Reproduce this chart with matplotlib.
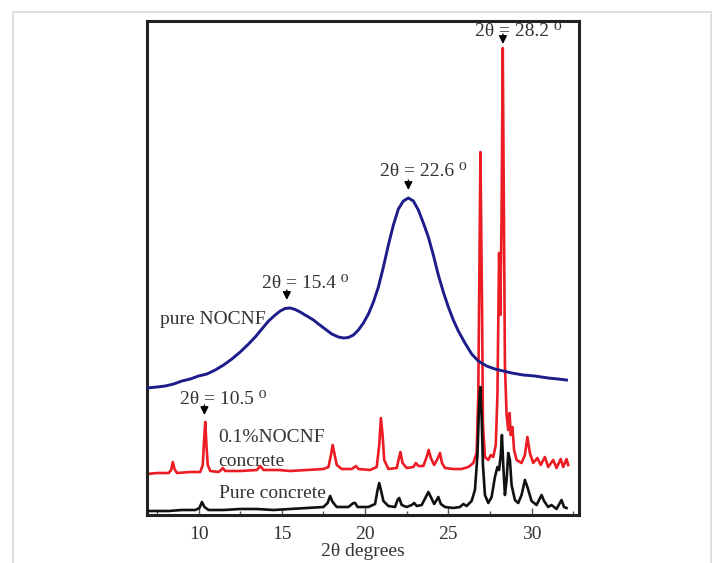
import matplotlib
matplotlib.use("Agg")
import matplotlib.pyplot as plt
from matplotlib.patches import Rectangle
from matplotlib.ticker import MultipleLocator

# ---- data (x in degrees 2theta, y in relative intensity units) ----
blue_x = [6.9, 7.5, 8, 8.5, 9, 9.5, 10, 10.5, 11, 11.5, 12, 12.5, 13, 13.4, 13.8, 14.2, 14.6,
          14.9, 15.2, 15.5, 15.8, 16.1, 16.5, 16.9, 17.2, 17.6, 18.0, 18.4, 18.7, 19.0, 19.3,
          19.6, 19.9, 20.2, 20.5, 20.8, 21.1, 21.4, 21.7, 22.0, 22.3, 22.6, 22.9, 23.2, 23.5,
          23.8, 24.1, 24.4, 24.7, 25.0, 25.3, 25.6, 26.0, 26.4, 26.8, 27.3, 27.8, 28.3, 28.8,
          29.5, 30.2, 31.0, 31.6, 32.1]
blue_y = [127, 128, 129, 131, 134, 136, 139, 141, 145, 150, 156, 163, 171, 178, 186, 194, 200,
          204, 206.5, 207, 205.5, 203, 199, 195, 191, 186, 181, 178, 177, 177.5, 180,
          185, 192, 201, 213, 228, 248, 270, 290, 306, 314, 317, 314, 305, 292,
          278, 260, 240, 223, 208, 195, 184, 172, 161, 154, 149, 146, 144, 142,
          140, 139, 137, 136, 135]

red_x = [6.9, 7.5, 8.2, 8.35, 8.45, 8.55, 8.7, 9.5, 10.1, 10.25, 10.33, 10.4, 10.47, 10.55, 10.7,
         11.2, 11.35, 11.45, 11.6, 12.5, 13.5, 13.7, 13.9, 14.8, 15.5, 16.5, 17.5, 17.8, 17.95,
         18.05, 18.15, 18.3, 18.6, 19.2, 19.45, 19.6, 20.3, 20.7, 20.85, 20.95, 21.05, 21.15,
         21.4, 21.9, 22.05, 22.12, 22.25, 22.5, 22.9, 23.05, 23.2, 23.5, 23.7, 23.82, 23.95,
         24.15, 24.35, 24.5, 24.62, 24.8, 25.3, 25.8, 26.2, 26.5, 26.7, 26.8, 26.88, 26.93,
         26.98, 27.03, 27.08, 27.2, 27.4, 27.55, 27.7, 27.85, 27.95, 28.05, 28.12, 28.2, 28.27,
         28.34, 28.4, 28.5, 28.6, 28.68, 28.75, 28.85, 28.95, 29.1, 29.4, 29.6, 29.75, 29.9,
         30.1, 30.35, 30.55, 30.8, 31.0, 31.3, 31.5, 31.75, 31.9, 32.1, 32.2]
red_y = [41, 42, 42, 45, 53, 46, 42, 43, 43, 50, 75, 93, 70, 50, 44,
         43, 45, 47, 44, 44, 45, 49, 45, 45, 44, 45, 46, 48, 60,
         70, 62, 50, 46, 46, 49, 46, 45, 48, 70, 97, 80, 55,
         46, 47, 58, 63, 52, 47, 48, 52, 49, 49, 58, 65, 57,
         50, 56, 62, 52, 47, 46, 46, 48, 52, 62, 120, 270, 363,
         280, 200, 90, 58, 55, 60, 58, 70, 120, 262, 200, 300, 467,
         300, 150, 100, 85, 102, 80, 88, 65, 55, 52, 60, 78, 62,
         52, 57, 50, 58, 48, 55, 47, 56, 48, 56, 50]

black_x = [6.9, 7.5, 8.2, 9, 9.8, 10.05, 10.2, 10.35, 10.6, 11.5, 12.5, 13.5, 14.5, 15.5, 16.5,
           17.5, 17.75, 17.9, 18.05, 18.3, 19.0, 19.3, 19.4, 19.55, 20.2, 20.6, 20.75, 20.85,
           20.95, 21.1, 21.4, 21.8, 21.95, 22.05, 22.2, 22.5, 22.8, 22.95, 23.1, 23.4, 23.65,
           23.8, 23.95, 24.15, 24.3, 24.4, 24.55, 24.8, 25.3, 25.7, 25.9, 26.1, 26.4, 26.6,
           26.75, 26.85, 26.92, 27.0, 27.08, 27.2, 27.4, 27.6, 27.8, 27.95, 28.05, 28.15, 28.22,
           28.3, 28.4, 28.5, 28.6, 28.7, 28.8, 29.0, 29.2, 29.4, 29.6, 29.75, 30.0, 30.3, 30.6,
           30.75, 31.0, 31.2, 31.5, 31.8, 31.95, 32.1]
black_y = [4, 4, 4, 5, 5, 7, 13, 8, 5, 5, 6, 6, 5, 6, 7,
           8, 12, 19, 13, 8, 8, 12, 12, 8, 8, 11, 25, 32,
           25, 14, 9, 8, 15, 17, 10, 8, 10, 12, 9, 10, 18,
           23, 18, 11, 15, 18, 11, 8, 7, 8, 11, 9, 14, 25,
           60, 110, 128, 100, 50, 20, 12, 18, 38, 48, 45, 60, 80,
           50, 20, 35, 62, 55, 30, 15, 12, 20, 35, 28, 14, 10, 20,
           14, 8, 10, 6, 15, 8, 7]

xticks = [10, 15, 20, 25, 30]
peak_labels = ["2θ = 10.5 ⁰", "2θ = 15.4 ⁰", "2θ = 22.6 ⁰", "2θ = 28.2 ⁰"]
peak_x = [10.35, 15.3, 22.6, 28.28]
peak_tip = [100, 215, 325, 471]
label_x = [8.9, 13.8, 20.9, 26.6]
label_y = [115, 232, 343, 483]

serif = ["Liberation Serif", "DejaVu Serif"]
txt_color = "#333333"

fig = plt.figure(figsize=(7.15, 5.63), dpi=100)
# light outer frame
fig.patches.append(Rectangle((13 / 715, -0.05), (711 - 13) / 715, 1.05 - 12 / 563,
                             transform=fig.transFigure, fill=False,
                             edgecolor="#d9d9d9", linewidth=1.2))

ax = fig.add_axes([147 / 715, 48 / 563, (579 - 147) / 715, (515 - 21) / 563])
ax.plot(blue_x, blue_y, color="#1c1c8a", lw=2.1, zorder=3)
ax.plot(red_x, red_y, color="#ec1c24", lw=1.9, zorder=2)
ax.plot(black_x, black_y, color="#111111", lw=1.9, zorder=4)

ax.set_xlim(6.9, 32.85)
ax.set_ylim(0, 494)
ax.set_yticks([])
ax.set_xticks(xticks)
ax.xaxis.set_minor_locator(MultipleLocator(2.5))
ax.tick_params(axis="x", which="major", direction="in", length=5, width=1, color="#555555",
               labelsize=14, labelcolor=txt_color, pad=8)
ax.tick_params(axis="x", which="minor", direction="in", length=3, width=1, color="#555555")
for lab in ax.get_xticklabels():
    lab.set_fontfamily(serif)
for sp in ax.spines.values():
    sp.set_linewidth(2.2)
    sp.set_color("#222222")

ax.set_xlabel("2θ degrees", fontsize=14, family=serif, color=txt_color, labelpad=0)

for lbl, px, tip, lx, ly in zip(peak_labels, peak_x, peak_tip, label_x, label_y):
    ax.text(lx, ly, lbl, fontsize=14, family=serif, color=txt_color, ha="left", va="center")
    ax.annotate("", xy=(px, tip), xytext=(px, tip + 10),
                arrowprops=dict(arrowstyle="-|>", color="black", lw=1.0, mutation_scale=12,
                                shrinkA=0, shrinkB=0))

ax.text(7.7, 195, "pure NOCNF", fontsize=14, family=serif, color=txt_color, ha="left", va="center")
ax.text(11.2, 77, "0.1%NOCNF", fontsize=14, family=serif, color=txt_color, ha="left", va="center")
ax.text(11.2, 53, "concrete", fontsize=14, family=serif, color=txt_color, ha="left", va="center")
ax.text(11.2, 22, "Pure concrete", fontsize=14, family=serif, color=txt_color, ha="left", va="center")

fig.savefig("out.png", dpi=100)
